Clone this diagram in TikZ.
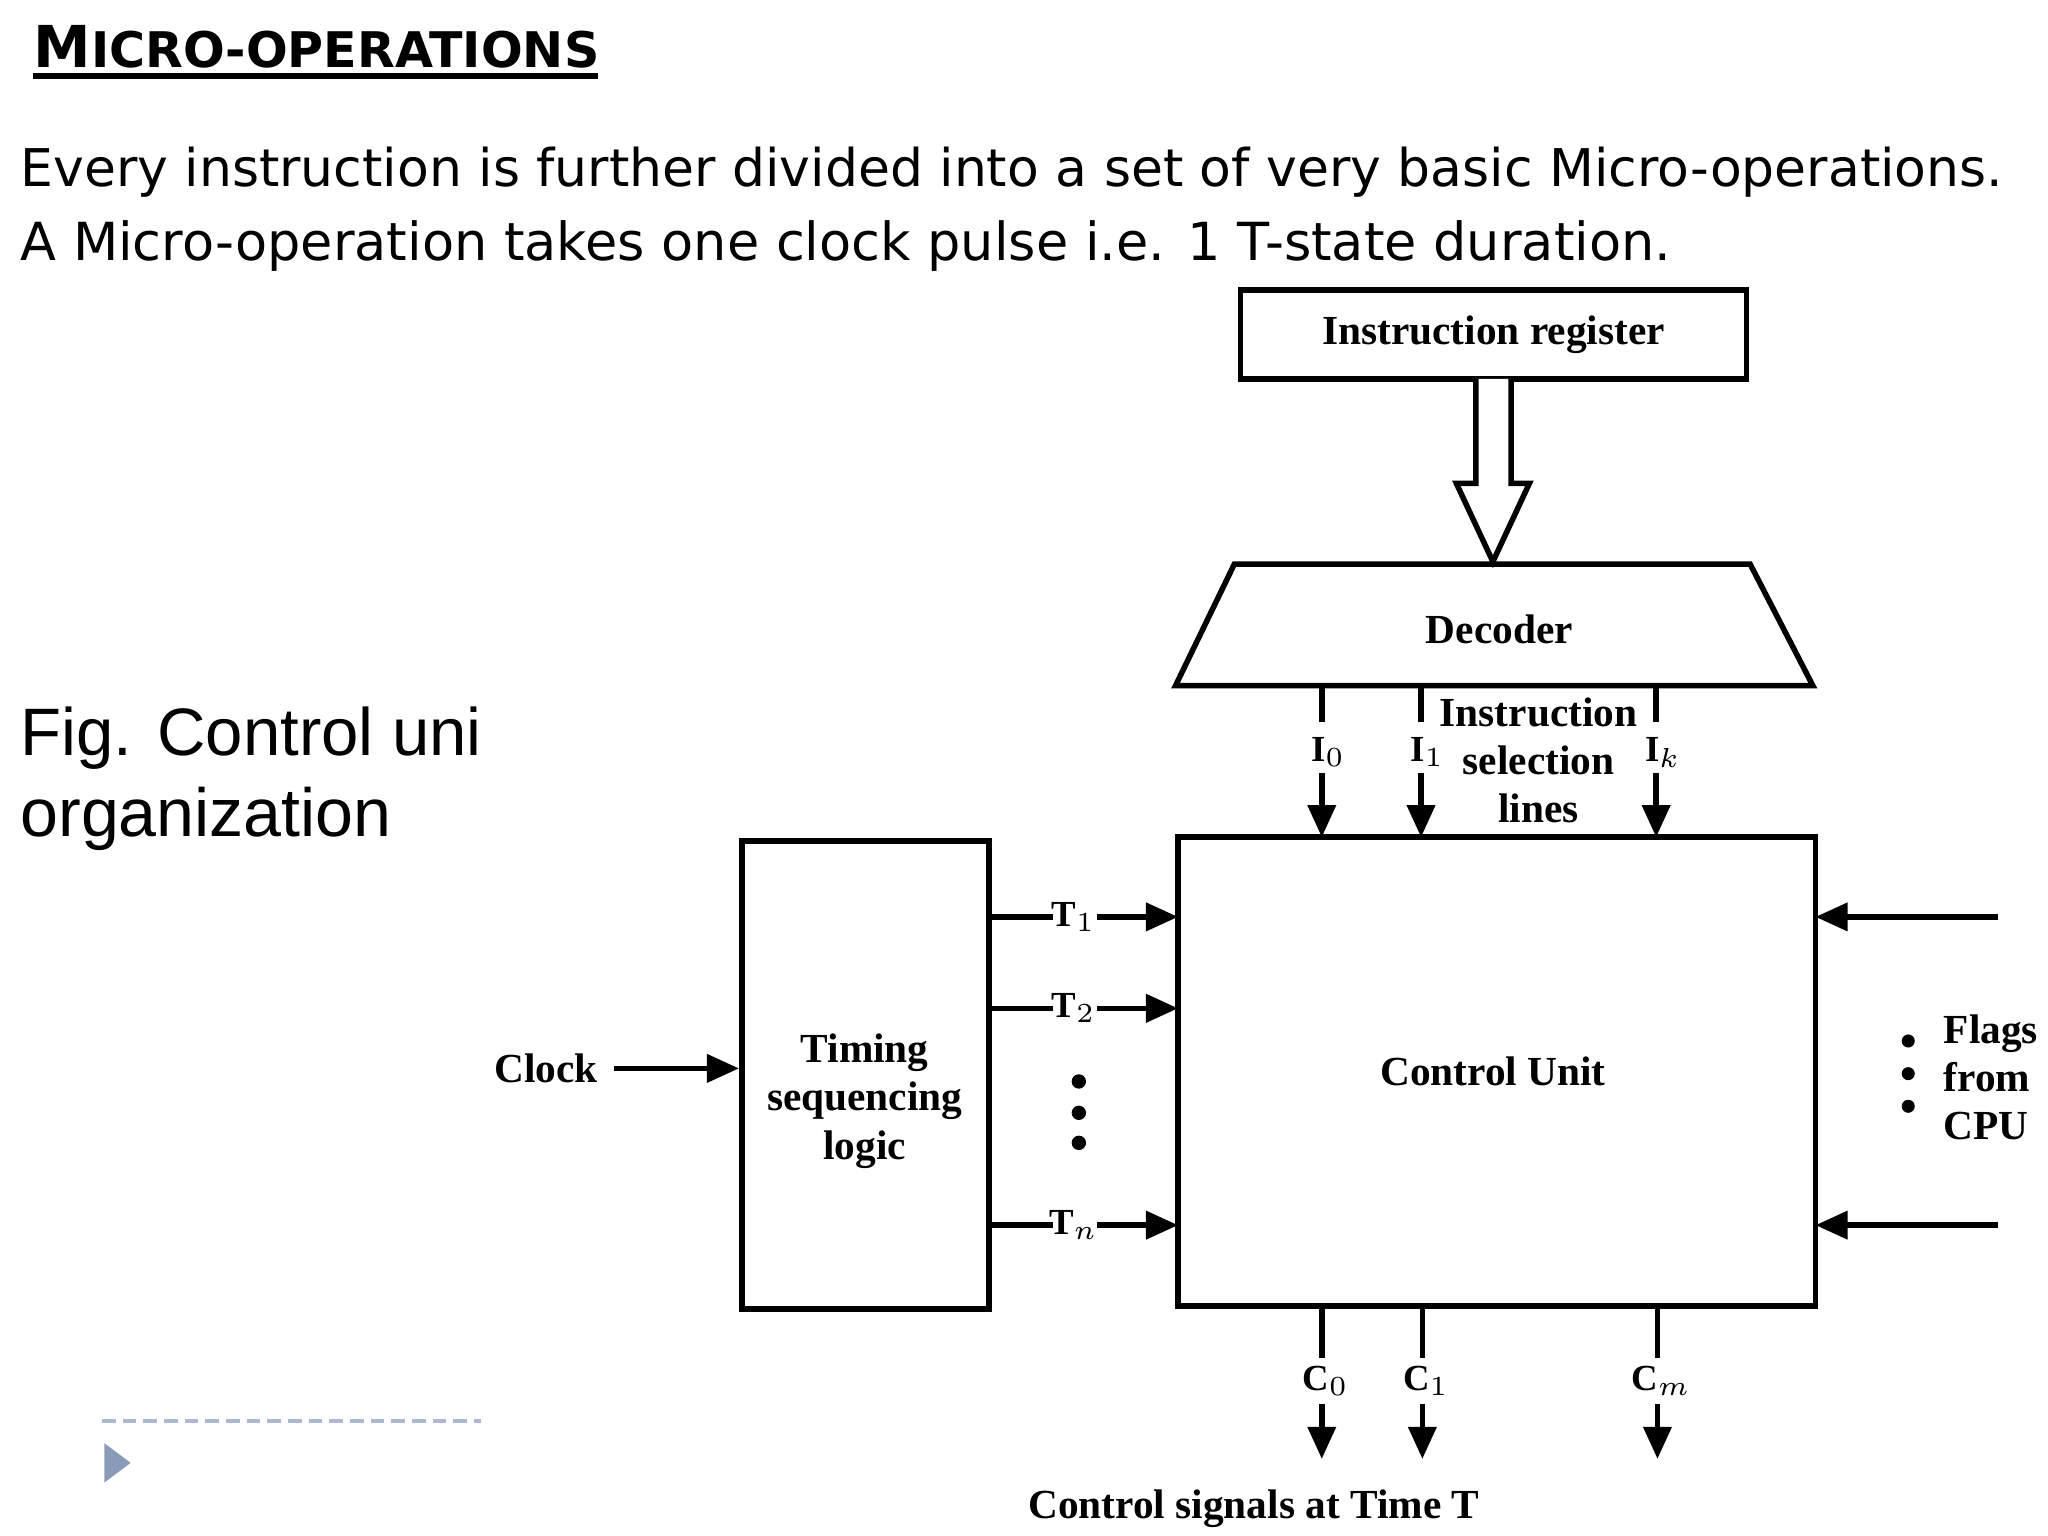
\documentclass[tikz,border=0pt]{standalone}
\usepackage{fontspec}
\setmainfont{Liberation Serif}
\newfontfamily\verd{DejaVu Sans}
\newfontfamily\ari{Liberation Sans}
\usetikzlibrary{arrows.meta}
\definecolor{slate}{HTML}{8A9BBA}
\begin{document}
\begin{tikzpicture}[x=0.01cm,y=-0.01cm,
  box/.style={draw,line width=1.2pt},
  lab/.style={font=\fontsize{9}{10.5}\selectfont\bfseries,inner sep=1pt},
  arr/.style={line width=1.2pt,-{Triangle[length=7pt,width=6pt]}},
  dsh/.style={line width=1.2pt,dash pattern=on 8pt off 4pt}]
\useasboundingbox (0,0) rectangle (1568,1176);
% header texts
\node[anchor=west,inner sep=0] (title) at (25,36) {\resizebox{4.33cm}{!}{\verd\bfseries M{\fontsize{8.5}{10}\selectfont ICRO-OPERATIONS}}};
\draw[line width=1.2pt] (25,58) -- (458,58);
\node[anchor=west,inner sep=0] (l1) at (15,132) {\resizebox{15.17cm}{!}{\verd Every instruction is further divided into a set of very basic Micro-operations.}};
\node[anchor=west,inner sep=0] (l2) at (15,188) {\resizebox{12.63cm}{!}{\verd A Micro-operation takes one clock pulse i.e. 1 T-state duration.}};
\node[anchor=west,inner sep=0] (f1) at (15,565) {\resizebox{3.53cm}{!}{\ari Fig. Control uni}};
\node[anchor=west,inner sep=0] (f2) at (15,627) {\resizebox{2.84cm}{!}{\ari organization}};
\draw[color=slate!70,line width=0.8pt,dash pattern=on 3pt off 1.5pt] (78,1088) -- (368,1088);
\fill[color=slate] (80,1105) -- (100,1120) -- (80,1135) -- cycle;
% diagram
\node[box,minimum width=3.87cm,minimum height=0.68cm,lab] (ir) at (1143.5,256) {Instruction register};
\draw[line width=1.2pt,fill=white] (1130,290) -- (1130,370) -- (1115,370) -- (1143,430) -- (1171,370) -- (1157,370) -- (1157,290);
\draw[box] (945,432) -- (1340,432) -- (1388,525) -- (900,525) -- cycle;
\node[lab] (dec) at (1148,482) {Decoder};
\node[box,minimum width=4.88cm,minimum height=3.59cm] (cu) at (1146,820.5) {};
\node[lab] at (1143,820) {Control Unit};
\node[box,minimum width=1.89cm,minimum height=3.58cm] (tm) at (662.5,823) {};
\node[lab,align=center] at (662,843) {Timing\\sequencing\\logic};
% selection lines
\foreach \x/\s in {1012/0,1088/1,1268/k}{
  \draw[dsh] (\x,525) -- (\x,560);
  \draw[arr] (\x,592) -- (\x,641);
  \node[lab,font=\fontsize{8}{10}\selectfont\bfseries] at (\x+5,576) {I$_{\s}$};
}
\node[lab,align=center] at (1178,582) {Instruction\\selection\\lines};
% clock
\node[lab] (clk) at (418,818) {Clock};
\draw[arr] (clk.east) ++(8,0) -- (tm.west|-clk);
% T lines
\foreach \y/\s in {702/1,772/2,938/n}{
  \draw[line width=1.2pt] (757,\y) -- (806,\y);
  \node[lab,font=\fontsize{8}{10}\selectfont\bfseries] at (822,\y) {T$_{\s}$};
  \draw[arr] (840,\y) -- (902,\y);
}
\foreach \y in {828,852,875} \fill (826,\y) circle (5.5);
% flags
\draw[arr] (1530,702) -- (1390,702);
\draw[arr] (1530,938) -- (1390,938);
\foreach \y in {797,822,847} \fill (1461,\y) circle (5);
\node[lab,align=left,anchor=west] at (1484,825) {Flags\\from\\CPU};
% control signals
\foreach \x/\s in {1012/0,1089/1,1269/m}{
  \draw[line width=1.2pt] (\x,1000) -- (\x,1040);
  \node[lab,font=\fontsize{8}{10}\selectfont\bfseries] at (\x+3,1057) {C$_{\s}$};
  \draw[arr] (\x,1075) -- (\x,1117);
}
\node[lab] at (960,1155) {Control signals at Time T};
\end{tikzpicture}
\end{document}
